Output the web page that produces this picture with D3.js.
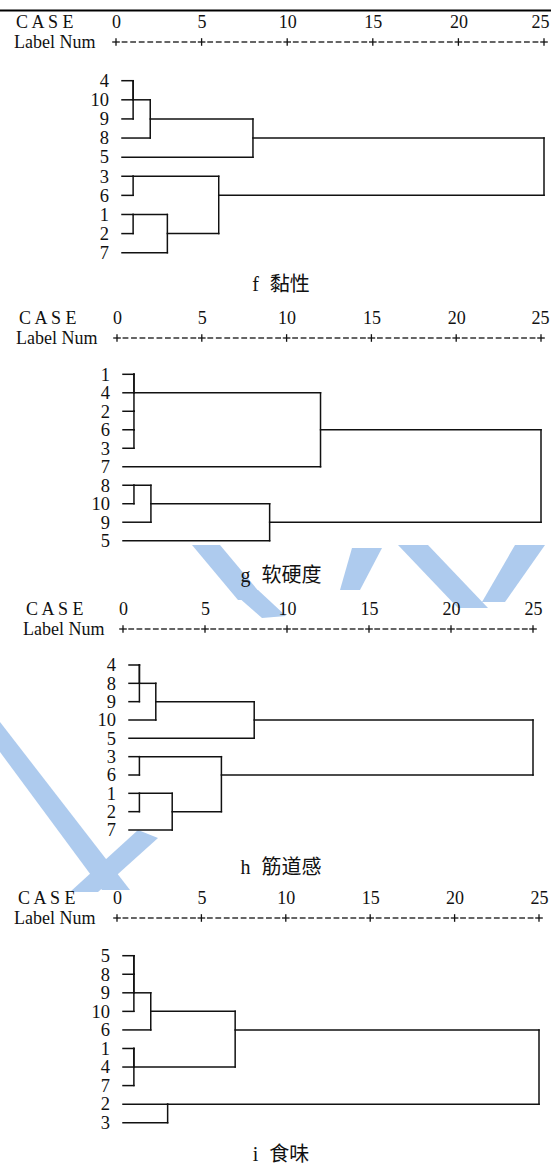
<!DOCTYPE html>
<html>
<head>
<meta charset="utf-8">
<script src="https://cdn.jsdelivr.net/npm/d3@7"></script>
<style>
body{margin:0;background:#fff}
text{font-family:"Liberation Serif","Noto Sans CJK SC",serif;fill:#111}
</style>
</head>
<body>
<div id="chart"></div>
<script>
// rescaled distance ruler
var rulerTicks = [0, 5, 10, 15, 20, 25];

// leaf order (top -> bottom) and merge schedule [cluster, cluster, distance]
// merged cluster keeps the label of the first one
var leavesF = [4, 10, 9, 8, 5, 3, 6, 1, 2, 7];
var mergesF = [[4, 10, 1], [4, 9, 1], [4, 8, 2], [4, 5, 8], [3, 6, 1], [1, 2, 1], [1, 7, 3], [3, 1, 6], [4, 3, 25]];

var leavesG = [1, 4, 2, 6, 3, 7, 8, 10, 9, 5];
var mergesG = [[1, 4, 1], [6, 3, 1], [2, 6, 1], [1, 2, 1], [1, 7, 12], [8, 10, 1], [8, 9, 2], [8, 5, 9], [1, 8, 25]];

var leavesH = [4, 8, 9, 10, 5, 3, 6, 1, 2, 7];
var mergesH = [[4, 8, 1], [4, 9, 1], [4, 10, 2], [4, 5, 8], [3, 6, 1], [1, 2, 1], [1, 7, 3], [3, 1, 6], [4, 3, 25]];

var leavesI = [5, 8, 9, 10, 6, 1, 4, 7, 2, 3];
var mergesI = [[5, 8, 1], [5, 9, 1], [5, 10, 1], [5, 6, 2], [1, 4, 1], [1, 7, 1], [5, 1, 7], [2, 3, 3], [5, 2, 25]];

var letters = ['f', 'g', 'h', 'i'];
var names = ['黏性', '软硬度', '筋道感', '食味'];

//版面位置
var panels = [
    {leaves: leavesF, merges: mergesF, xr: [116, 544], yr: [80.7, 252.7], ruler: 42, caseX: 16, numX: 14, titleY: 291},
    {leaves: leavesG, merges: mergesG, xr: [117, 541], yr: [374.3, 540.7], ruler: 338, caseX: 19, numX: 16, titleY: 582},
    {leaves: leavesH, merges: mergesH, xr: [123, 533], yr: [665, 830], ruler: 629, caseX: 26, numX: 23, titleY: 874},
    {leaves: leavesI, merges: mergesI, xr: [117, 539], yr: [955.7, 1122.7], ruler: 918, caseX: 18, numX: 14, titleY: 1161}
];

var svg = d3.select('#chart').append('svg')
    .attr('width', 551)
    .attr('height', 1166);

// watermark (light blue strokes behind the figure)
var wm = [
    [[192, 545], [220, 545], [266, 600], [238, 600]],
    [[352, 548], [382, 548], [360, 590], [340, 590]],
    [[398, 545], [428, 545], [488, 608], [458, 608]],
    [[515, 545], [545, 545], [505, 602], [482, 602]],
    [[0, 722], [0, 752], [102, 890], [130, 890]],
    [[70, 892], [98, 892], [158, 838], [138, 830]],
    [[230, 590], [258, 590], [286, 616], [262, 618]]
];
svg.append('g').selectAll('polygon')
    .data(wm)
    .enter()
    .append('polygon')
    .attr('points', function (d) { return d.join(' '); })
    .attr('fill', '#aecbee');

// page header rule
svg.append('line')
    .attr('x1', 0).attr('x2', 551)
    .attr('y1', 10.5).attr('y2', 10.5)
    .attr('stroke', '#000').attr('stroke-width', 2.2);

panels.forEach(function (p, k) {
    drawPanel(p, k);
});

function drawPanel(p, k) {
    var x = d3.scaleLinear().domain([0, 25]).range(p.xr);
    var y = d3.scalePoint().domain(p.leaves).range(p.yr);
    var g = svg.append('g');
    var leafX = x(0) + 6;

    // header
    g.append('text')
        .attr('x', p.caseX).attr('y', p.ruler - 14)
        .style('font-size', '18px')
        .text('C A S E');
    g.append('text')
        .attr('x', p.numX).attr('y', p.ruler + 5.5)
        .style('font-size', '18px')
        .text('Label Num');

    var axis = d3.axisTop(x).tickValues(rulerTicks).tickSize(0).tickPadding(0);
    var ax = g.append('g')
        .attr('transform', 'translate(0,' + (p.ruler - 14) + ')')
        .call(axis);
    ax.select('.domain').remove();
    ax.selectAll('text')
        .style('font-size', '18px')
        .style('font-family', '"Liberation Serif",serif')
        .attr('fill', '#111')
        .attr('dx', function (d) { return Math.min(0, 540 - x(d)); });

    // ruler +---------+
    var dashes = [];
    for (var i = 0; i < rulerTicks.length - 1; i++) {
        for (var j = 1; j <= 9; j++) {
            dashes.push(rulerTicks[i] + j * (rulerTicks[i + 1] - rulerTicks[i]) / 10);
        }
    }
    g.selectAll('.dash')
        .data(dashes)
        .enter()
        .append('line')
        .attr('x1', function (d) { return x(d) - 2.9; })
        .attr('x2', function (d) { return x(d) + 2.9; })
        .attr('y1', p.ruler).attr('y2', p.ruler)
        .attr('stroke', '#111').attr('stroke-width', 1.3);
    var plus = g.selectAll('.plus')
        .data(rulerTicks)
        .enter()
        .append('g')
        .attr('transform', function (d) { return 'translate(' + x(d) + ',' + p.ruler + ')'; });
    plus.append('line').attr('x1', -3.8).attr('x2', 3.8).attr('stroke', '#111').attr('stroke-width', 1.3);
    plus.append('line').attr('y1', -3.8).attr('y2', 3.8).attr('stroke', '#111').attr('stroke-width', 1.3);

    // leaf labels
    g.selectAll('.leaf')
        .data(p.leaves)
        .enter()
        .append('text')
        .attr('x', leafX - 13)
        .attr('y', function (d) { return y(d) + 6.3; })
        .attr('text-anchor', 'end')
        .style('font-size', '18.5px')
        .text(function (d) { return d; });

    // dendrogram links
    var row = {}, dist = {};
    p.leaves.forEach(function (l, i) { row[l] = i; dist[l] = null; });
    var segs = [];
    p.merges.forEach(function (m) {
        var a = m[0], b = m[1], xd = x(m[2]);
        var ya = y(p.leaves[row[a]]), yb = y(p.leaves[row[b]]);
        var xa = dist[a] == null ? leafX : x(dist[a]);
        var xb = dist[b] == null ? leafX : x(dist[b]);
        segs.push([xa, ya, xd, ya]);
        segs.push([xb, yb, xd, yb]);
        segs.push([xd, ya, xd, yb]);
        row[a] = Math.floor((row[a] + row[b]) / 2);
        dist[a] = m[2];
    });
    g.selectAll('.link')
        .data(segs)
        .enter()
        .append('line')
        .attr('x1', function (d) { return d[0]; })
        .attr('y1', function (d) { return d[1]; })
        .attr('x2', function (d) { return d[2]; })
        .attr('y2', function (d) { return d[3]; })
        .attr('stroke', '#111')
        .attr('stroke-width', 1.5)
        .attr('stroke-linecap', 'square');

    // caption
    var t = g.append('text')
        .attr('x', 281).attr('y', p.titleY)
        .attr('text-anchor', 'middle')
        .style('font-size', '20px')
        .text(letters[k]);
    t.append('tspan').attr('dx', 11).text(names[k]);
}
</script>
</body>
</html>
